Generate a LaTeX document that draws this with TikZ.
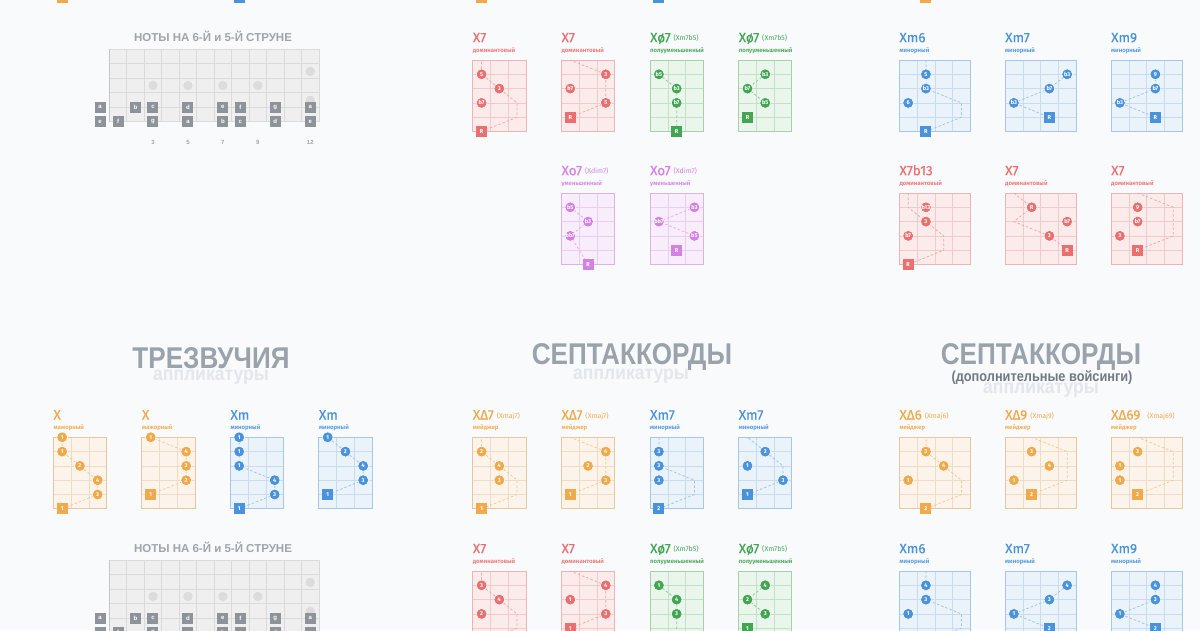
\documentclass[tikz,border=0pt]{standalone}
\usepackage{fontspec}
\setmainfont{Fira Sans}
\newfontfamily\hfont{Liberation Sans}
\newfontfamily\cfont[FakeBold=0.35]{Fira Sans}
\definecolor{bg}{HTML}{F8FAFC}
\definecolor{ttl}{HTML}{9AA2AC}
\definecolor{ttlb}{HTML}{E3E7EB}
\definecolor{ttlm}{HTML}{727982}
\definecolor{orM}{HTML}{F0A94B}\definecolor{orF}{HTML}{FCF4EB}\definecolor{orL}{HTML}{EEDCC6}\definecolor{orB}{HTML}{E5C8A3}\definecolor{orD}{HTML}{F4C78F}
\definecolor{blM}{HTML}{4A93DC}\definecolor{blF}{HTML}{EAF2FA}\definecolor{blL}{HTML}{C8DBEF}\definecolor{blB}{HTML}{A8C6E5}\definecolor{blD}{HTML}{9DC3EB}
\definecolor{rdM}{HTML}{EC6F6F}\definecolor{rdF}{HTML}{FCEBEB}\definecolor{rdL}{HTML}{F1CBCB}\definecolor{rdB}{HTML}{ECB4B4}\definecolor{rdD}{HTML}{F2A6A6}
\definecolor{gnM}{HTML}{43A552}\definecolor{gnF}{HTML}{EAF5EB}\definecolor{gnL}{HTML}{C3E1C6}\definecolor{gnB}{HTML}{A3D1A8}\definecolor{gnD}{HTML}{8FCA97}
\definecolor{puM}{HTML}{D580E4}\definecolor{puF}{HTML}{F8EDFA}\definecolor{puL}{HTML}{EBCDF1}\definecolor{puB}{HTML}{DEB1E7}\definecolor{puD}{HTML}{E4ABED}
\definecolor{bdF}{HTML}{EFEFEF}\definecolor{bdL}{HTML}{DADADA}\definecolor{bdN}{HTML}{C6C6C6}
\definecolor{inl}{HTML}{DCDCDC}\definecolor{nsq}{HTML}{8E939A}\definecolor{fnum}{HTML}{A3A7AD}\definecolor{btc}{HTML}{A0A5AC}

\def\cwd{17.75}
\def\shd{14.3}
\newif\ifintv
\newcommand{\lb}[2]{\ifintv#1\else#2\fi}
\newcommand{\ctfont}{\cfont\fontsize{13.5}{14}\selectfont}
\newcommand{\csfont}{\fontsize{6}{6}\selectfont\bfseries}
\newcommand{\dfont}{\fontsize{5.6}{6}\selectfont\bfseries}
\newcommand{\pr}[1]{\hspace{3pt}\raisebox{1.5pt}{\rmfamily\fontsize{7}{7}\selectfont(#1)}}

\tikzset{
 cdot/.style={circle,fill=#1M,draw=white,line width=.5pt,minimum size=10.8pt,inner sep=0pt,text=white,font=\dfont},
 sqn/.style={rectangle,fill=#1M,minimum size=11pt,inner sep=0pt,text=white,font=\dfont},
 dsh/.style={draw=#1D,line width=.75pt,dash pattern=on 2.5pt off 2pt},
 bigt/.style={text=ttl,inner sep=0pt,font=\hfont\bfseries\fontsize{30}{30}\selectfont},
 bigs/.style={text=ttlb,inner sep=0pt,font=\hfont\bfseries\fontsize{19.5}{20}\selectfont},
 bigm/.style={text=ttlm,inner sep=0pt,font=\hfont\bfseries\fontsize{14.5}{15}\selectfont},
 btitle/.style={text=btc,inner sep=0pt,font=\hfont\bfseries\fontsize{11.5}{12}\selectfont},
 nsqs/.style={rectangle,fill=nsq,minimum size=11pt,inner sep=0pt,text=white,font=\hfont\bfseries\fontsize{6}{6}\selectfont},
 fnums/.style={text=fnum,inner sep=0pt,font=\hfont\bfseries\fontsize{6}{6}\selectfont}
}

% chord grid: name, x, y, ncols, palette
\newcommand{\cgrid}[5]{%
 \fill[#5F] (#2,#3) rectangle ++({#4*\cwd},{5*\shd});
 \foreach \i in {1,...,4}{\draw[#5L,line width=.5pt] (#2,{#3+\i*\shd}) -- ++({#4*\cwd},0);}
 \pgfmathtruncatemacro{\nm}{#4-1}
 \foreach \i in {1,...,\nm}{\draw[#5L,line width=.5pt] ({#2+\i*\cwd},#3) -- ++(0,{5*\shd});}
 \draw[#5B,line width=.8pt] (#2,#3) rectangle ++({#4*\cwd},{5*\shd});
 \foreach \si in {1,...,6}{\foreach \ci in {1,...,#4}{\coordinate (#1-\si-\ci) at ({#2+(\ci-0.5)*\cwd},{#3+(\si-1)*\shd});}}
}
\newcommand{\ctitle}[6]{%
 \node[anchor=base west,inner sep=0pt,text=#4M,font=\ctfont] (#1-t) at (#2,{#3-17.8}) {#5};
 \node[anchor=base west,inner sep=0pt,text=#4M!90!white,font=\csfont] (#1-s) at (#2,{#3-7.6}) {#6};}
% titles of the first row: only in the lower copy (the upper copy's are off the page)
\newcommand{\rtitle}[6]{\ifintv\else\ctitle{#1}{#2}{#3}{#4}{#5}{#6}\fi}
\newcommand{\cd}[4]{\node[cdot=#2] (#1-#3d) at (#1-#3) {#4};}
\newcommand{\cs}[4]{\node[sqn=#2] (#1-#3d) at (#1-#3) {#4};}

\newcommand{\board}[1]{%
 \node[btitle] (#1-bt) at (213,547) {НОТЫ НА 6-Й и 5-Й СТРУНЕ};
 \fill[bdF] (109.3,560.3) rectangle (319,632.7);
 \foreach \i in {1,...,4}{\draw[bdL,line width=.6pt] (109.3,{560.3+\i*14.48}) -- (319,{560.3+\i*14.48});}
 \foreach \i in {1,...,11}{\draw[bdL,line width=.6pt] ({109.3+\i*17.475},560.3) -- ({109.3+\i*17.475},632.7);}
 \draw[bdL,line width=.6pt] (109.3,560.3) rectangle (319,632.7);
 \draw[bdN,line width=.9pt] (109.3,560.3) -- (109.3,632.7);
 \foreach \n in {3,5,7,9}{\fill[inl] ({109.3+(\n-0.5)*17.475},596.5) circle (4.7pt);}
 \fill[inl] ({109.3+11.5*17.475},582.4) circle (4.7pt);
 \fill[inl] ({109.3+11.5*17.475},611.3) circle (4.7pt);
 \foreach \n in {0,...,12}{%
   \pgfmathsetmacro{\xx}{\n==0 ? 100 : 109.3+(\n-0.5)*17.475}
   \coordinate (#1-f5-\n) at (\xx,618.2);
   \coordinate (#1-f6-\n) at (\xx,632.7);
   \coordinate (#1-fn-\n) at (\xx,653.7);}
 \foreach \n/\l in {0/a,2/b,3/c,5/d,7/e,8/f,10/g,12/a}{\node[nsqs] (#1-q5-\n) at (#1-f5-\n) {\l};}
 \foreach \n/\l in {0/e,1/f,3/g,5/a,7/b,8/c,10/d,12/e}{\node[nsqs] (#1-q6-\n) at (#1-f6-\n) {\l};}
 \ifintv\foreach \n in {3,5,7,9,12}{\node[fnums] (#1-num-\n) at (#1-fn-\n) {\n};}\fi
}

\newcommand{\tile}[1]{%
 % section titles (lower copy only)
 \ifintv\else
 \node[bigs] (#1-T1b) at (211,377) {\scalebox{0.9}[1]{аппликатуры}};
 \node[bigt] (#1-T1) at (211,358) {\scalebox{0.87}[1]{ТРЕЗВУЧИЯ}};
 \node[bigs] (#1-T2b) at (631,376) {\scalebox{0.9}[1]{аппликатуры}};
 \node[bigt] (#1-T2) at (632,357) {\scalebox{0.87}[1]{СЕПТАККОРДЫ}};
 \node[bigs] (#1-T3b) at (1041,390) {\scalebox{0.9}[1]{аппликатуры}};
 \node[bigt] (#1-T3) at (1041,357) {\scalebox{0.87}[1]{СЕПТАККОРДЫ}};
 \node[bigm] (#1-T3m) at (1042,378) {\scalebox{0.88}[1]{(дополнительные войсинги)}};
 \fi
 % ---- row 1, column 1
 \cgrid{#1a1}{53.3}{437.3}{3}{or}\rtitle{#1a1}{53.3}{437.3}{or}{X}{мажорный}
 \draw[dsh=or] (#1a1-6-1)--(#1a1-5-3)--(#1a1-4-3)--(#1a1-3-2)--(#1a1-2-1)--(#1a1-1-1);
 \cd{#1a1}{or}{1-1}{\lb{R}{1}}\cd{#1a1}{or}{2-1}{\lb{5}{1}}\cd{#1a1}{or}{3-2}{\lb{3}{2}}\cd{#1a1}{or}{4-3}{\lb{R}{4}}\cd{#1a1}{or}{5-3}{\lb{5}{3}}\cs{#1a1}{or}{6-1}{\lb{R}{1}}
 \cgrid{#1a2}{141.8}{437.3}{3}{or}\rtitle{#1a2}{141.8}{437.3}{or}{X}{мажорный}
 \draw[dsh=or] (#1a2-5-1)--(#1a2-4-3)--(#1a2-3-3)--(#1a2-2-3)--(#1a2-1-1);
 \cd{#1a2}{or}{1-1}{\lb{5}{1}}\cd{#1a2}{or}{2-3}{\lb{3}{4}}\cd{#1a2}{or}{3-3}{\lb{R}{3}}\cd{#1a2}{or}{4-3}{\lb{5}{2}}\cs{#1a2}{or}{5-1}{\lb{R}{1}}
 \cgrid{#1a3}{230.3}{437.3}{3}{bl}\rtitle{#1a3}{230.3}{437.3}{bl}{Xm}{минорный}
 \draw[dsh=bl] (#1a3-6-1)--(#1a3-5-3)--(#1a3-4-3)--(#1a3-3-1)--(#1a3-2-1)--(#1a3-1-1);
 \cd{#1a3}{bl}{1-1}{\lb{R}{1}}\cd{#1a3}{bl}{2-1}{\lb{5}{1}}\cd{#1a3}{bl}{3-1}{\lb{b3}{1}}\cd{#1a3}{bl}{4-3}{\lb{R}{4}}\cd{#1a3}{bl}{5-3}{\lb{5}{3}}\cs{#1a3}{bl}{6-1}{\lb{R}{1}}
 \cgrid{#1a4}{318.8}{437.3}{3}{bl}\rtitle{#1a4}{318.8}{437.3}{bl}{Xm}{минорный}
 \draw[dsh=bl] (#1a4-5-1)--(#1a4-4-3)--(#1a4-3-3)--(#1a4-2-2)--(#1a4-1-1);
 \cd{#1a4}{bl}{1-1}{\lb{5}{1}}\cd{#1a4}{bl}{2-2}{\lb{b3}{2}}\cd{#1a4}{bl}{3-3}{\lb{R}{4}}\cd{#1a4}{bl}{4-3}{\lb{5}{3}}\cs{#1a4}{bl}{5-1}{\lb{R}{1}}
 % ---- row 1, column 2
 \cgrid{#1b1}{472.7}{437.3}{3}{or}\rtitle{#1b1}{472.7}{437.3}{or}{XΔ7\pr{Xmaj7}}{мейджер}
 \draw[dsh=or] (#1b1-6-1)--(#1b1-5-3)--(#1b1-4-3)--(#1b1-3-2)--(#1b1-2-1)--(#1b1-1-1);
 \cd{#1b1}{or}{2-1}{\lb{5}{2}}\cd{#1b1}{or}{3-2}{\lb{3}{4}}\cd{#1b1}{or}{4-2}{\lb{7}{3}}\cs{#1b1}{or}{6-1}{\lb{R}{1}}
 \cgrid{#1b2}{561.4}{437.3}{3}{or}\rtitle{#1b2}{561.4}{437.3}{or}{XΔ7\pr{Xmaj7}}{мейджер}
 \draw[dsh=or] (#1b2-5-1)--(#1b2-4-3)--(#1b2-3-3)--(#1b2-2-3)--(#1b2-1-1);
 \cd{#1b2}{or}{2-3}{\lb{3}{4}}\cd{#1b2}{or}{3-2}{\lb{7}{2}}\cd{#1b2}{or}{4-3}{\lb{5}{3}}\cs{#1b2}{or}{5-1}{\lb{R}{1}}
 \cgrid{#1b3}{650}{437.3}{3}{bl}\rtitle{#1b3}{650}{437.3}{bl}{Xm7}{минорный}
 \draw[dsh=bl] (#1b3-6-1)--(#1b3-5-3)--(#1b3-4-3)--(#1b3-3-1)--(#1b3-2-1)--(#1b3-1-1);
 \cd{#1b3}{bl}{2-1}{\lb{5}{3}}\cd{#1b3}{bl}{3-1}{\lb{b3}{3}}\cd{#1b3}{bl}{4-1}{\lb{b7}{3}}\cs{#1b3}{bl}{6-1}{\lb{R}{2}}
 \cgrid{#1b4}{738.6}{437.3}{3}{bl}\rtitle{#1b4}{738.6}{437.3}{bl}{Xm7}{минорный}
 \draw[dsh=bl] (#1b4-5-1)--(#1b4-4-3)--(#1b4-3-3)--(#1b4-2-2)--(#1b4-1-1);
 \cd{#1b4}{bl}{2-2}{\lb{b3}{2}}\cd{#1b4}{bl}{3-1}{\lb{b7}{1}}\cd{#1b4}{bl}{4-3}{\lb{5}{3}}\cs{#1b4}{bl}{5-1}{\lb{R}{1}}
 % ---- row 1, column 3
 \cgrid{#1c1}{899.3}{437.3}{4}{or}\rtitle{#1c1}{899.3}{437.3}{or}{XΔ6\pr{Xmaj6}}{мейджер}
 \draw[dsh=or] (#1c1-6-2)--(#1c1-5-4)--(#1c1-4-4)--(#1c1-3-3)--(#1c1-2-2)--(#1c1-1-2);
 \cd{#1c1}{or}{2-2}{\lb{5}{3}}\cd{#1c1}{or}{3-3}{\lb{3}{4}}\cd{#1c1}{or}{4-1}{\lb{6}{1}}\cs{#1c1}{or}{6-2}{\lb{R}{2}}
 \cgrid{#1c2}{1005}{437.3}{4}{or}\rtitle{#1c2}{1005}{437.3}{or}{XΔ9\pr{Xmaj9}}{мейджер}
 \draw[dsh=or] (#1c2-5-2)--(#1c2-4-4)--(#1c2-3-4)--(#1c2-2-4)--(#1c2-1-2);
 \cd{#1c2}{or}{2-2}{\lb{9}{3}}\cd{#1c2}{or}{3-3}{\lb{7}{4}}\cd{#1c2}{or}{4-1}{\lb{3}{1}}\cs{#1c2}{or}{5-2}{\lb{R}{2}}
 \cgrid{#1c3}{1111}{437.3}{4}{or}\rtitle{#1c3}{1111}{437.3}{or}{XΔ69\hspace{4pt}\pr{Xmaj69}}{мейджер}
 \draw[dsh=or] (#1c3-5-2)--(#1c3-4-4)--(#1c3-3-4)--(#1c3-2-4)--(#1c3-1-2);
 \cd{#1c3}{or}{2-2}{\lb{9}{3}}\cd{#1c3}{or}{3-1}{\lb{6}{1}}\cd{#1c3}{or}{4-1}{\lb{3}{1}}\cs{#1c3}{or}{5-2}{\lb{R}{2}}
 % ---- row 2, column 1: notes board
 \board{#1}
 % ---- row 2, column 2
 \cgrid{#1b5}{472.7}{571}{3}{rd}\ctitle{#1b5}{472.7}{571}{rd}{X7}{доминантовый}
 \draw[dsh=rd] (#1b5-6-1)--(#1b5-5-3)--(#1b5-4-3)--(#1b5-3-2)--(#1b5-2-1)--(#1b5-1-1);
 \cd{#1b5}{rd}{2-1}{\lb{5}{3}}\cd{#1b5}{rd}{3-2}{\lb{3}{4}}\cd{#1b5}{rd}{4-1}{\lb{b7}{2}}\cs{#1b5}{rd}{6-1}{\lb{R}{1}}
 \cgrid{#1b6}{561.4}{571}{3}{rd}\ctitle{#1b6}{561.4}{571}{rd}{X7}{доминантовый}
 \draw[dsh=rd] (#1b6-5-1)--(#1b6-4-3)--(#1b6-3-3)--(#1b6-2-3)--(#1b6-1-1);
 \cd{#1b6}{rd}{2-3}{\lb{3}{4}}\cd{#1b6}{rd}{3-1}{\lb{b7}{1}}\cd{#1b6}{rd}{4-3}{\lb{5}{3}}\cs{#1b6}{rd}{5-1}{\lb{R}{1}}
 \cgrid{#1b7}{650}{571}{3}{gn}\ctitle{#1b7}{650}{571}{gn}{Xø7\pr{Xm7b5}}{полууменьшенный}
 \draw[dsh=gn] (#1b7-2-1)--(#1b7-3-2)--(#1b7-4-2)--(#1b7-5-2)--(#1b7-6-2);
 \cd{#1b7}{gn}{2-1}{\lb{b5}{1}}\cd{#1b7}{gn}{3-2}{\lb{b3}{4}}\cd{#1b7}{gn}{4-2}{\lb{b7}{3}}\cs{#1b7}{gn}{6-2}{\lb{R}{2}}
 \cgrid{#1b8}{738.6}{571}{3}{gn}\ctitle{#1b8}{738.6}{571}{gn}{Xø7\pr{Xm7b5}}{полууменьшенный}
 \draw[dsh=gn] (#1b8-2-2)--(#1b8-3-1)--(#1b8-4-2);
 \cd{#1b8}{gn}{2-2}{\lb{b3}{4}}\cd{#1b8}{gn}{3-1}{\lb{b7}{2}}\cd{#1b8}{gn}{4-2}{\lb{b5}{3}}\cs{#1b8}{gn}{5-1}{\lb{R}{1}}
 % ---- row 2, column 3
 \cgrid{#1c4}{899.3}{571}{4}{bl}\ctitle{#1c4}{899.3}{571}{bl}{Xm6}{минорный}
 \draw[dsh=bl] (#1c4-6-2)--(#1c4-5-4)--(#1c4-4-4)--(#1c4-3-2)--(#1c4-2-2)--(#1c4-1-2);
 \cd{#1c4}{bl}{2-2}{\lb{5}{4}}\cd{#1c4}{bl}{3-2}{\lb{b3}{3}}\cd{#1c4}{bl}{4-1}{\lb{6}{1}}\cs{#1c4}{bl}{6-2}{\lb{R}{2}}
 \cgrid{#1c5}{1005}{571}{4}{bl}\ctitle{#1c5}{1005}{571}{bl}{Xm7}{минорный}
 \draw[dsh=bl] (#1c5-2-4)--(#1c5-3-3)--(#1c5-4-1)--(#1c5-5-3);
 \cd{#1c5}{bl}{2-4}{\lb{b3}{4}}\cd{#1c5}{bl}{3-3}{\lb{b7}{3}}\cd{#1c5}{bl}{4-1}{\lb{b3}{1}}\cs{#1c5}{bl}{5-3}{\lb{R}{2}}
 \cgrid{#1c6}{1111}{571}{4}{bl}\ctitle{#1c6}{1111}{571}{bl}{Xm9}{минорный}
 \draw[dsh=bl] (#1c6-2-3)--(#1c6-3-3)--(#1c6-4-1)--(#1c6-5-3);
 \cd{#1c6}{bl}{2-3}{\lb{9}{4}}\cd{#1c6}{bl}{3-3}{\lb{b7}{3}}\cd{#1c6}{bl}{4-1}{\lb{b3}{1}}\cs{#1c6}{bl}{5-3}{\lb{R}{2}}
 % ---- row 3 (upper copy only reaches the page)
 \ifintv
 \cgrid{#1b9}{561.4}{704}{3}{pu}\ctitle{#1b9}{561.4}{704}{pu}{Xo7\pr{Xdim7}}{уменьшенный}
 \draw[dsh=pu] (#1b9-2-1)--(#1b9-3-2)--(#1b9-4-1)--(#1b9-6-2);
 \cd{#1b9}{pu}{2-1}{\lb{b5}{2}}\cd{#1b9}{pu}{3-2}{\lb{b3}{3}}\cd{#1b9}{pu}{4-1}{\lb{bb7}{1}}\cs{#1b9}{pu}{6-2}{\lb{R}{2}}
 \cgrid{#1b10}{650}{704}{3}{pu}\ctitle{#1b10}{650}{704}{pu}{Xo7\pr{Xdim7}}{уменьшенный}
 \draw[dsh=pu] (#1b10-2-3)--(#1b10-3-1)--(#1b10-4-3);
 \cd{#1b10}{pu}{2-3}{\lb{b3}{4}}\cd{#1b10}{pu}{3-1}{\lb{bb7}{1}}\cd{#1b10}{pu}{4-3}{\lb{b5}{3}}\cs{#1b10}{pu}{5-2}{\lb{R}{2}}
 \cgrid{#1c7}{899.3}{704}{4}{rd}\ctitle{#1c7}{899.3}{704}{rd}{X7b13}{доминантовый}
 \draw[dsh=rd] (#1c7-1-1)--(#1c7-2-1)--(#1c7-3-2)--(#1c7-4-3)--(#1c7-5-3)--(#1c7-6-1);
 \cd{#1c7}{rd}{2-2}{\lb{b13}{3}}\cd{#1c7}{rd}{3-2}{\lb{3}{2}}\cd{#1c7}{rd}{4-1}{\lb{b7}{1}}\cs{#1c7}{rd}{6-1}{\lb{R}{1}}
 \cgrid{#1c8}{1005}{704}{4}{rd}\ctitle{#1c8}{1005}{704}{rd}{X7}{доминантовый}
 \draw[dsh=rd] (#1c8-1-1)--(#1c8-2-2)--(#1c8-3-1)--(#1c8-4-3)--(#1c8-5-4);
 \cd{#1c8}{rd}{2-2}{\lb{R}{1}}\cd{#1c8}{rd}{3-4}{\lb{b7}{4}}\cd{#1c8}{rd}{4-3}{\lb{3}{3}}\cs{#1c8}{rd}{5-4}{\lb{R}{4}}
 \cgrid{#1c9}{1111}{704}{4}{rd}\ctitle{#1c9}{1111}{704}{rd}{X7}{доминантовый}
 \draw[dsh=rd] (#1c9-1-2)--(#1c9-2-4)--(#1c9-3-4)--(#1c9-4-4)--(#1c9-5-2);
 \cd{#1c9}{rd}{2-2}{\lb{9}{3}}\cd{#1c9}{rd}{3-2}{\lb{b7}{2}}\cd{#1c9}{rd}{4-1}{\lb{3}{1}}\cs{#1c9}{rd}{5-2}{\lb{R}{2}}
 \fi
}

\begin{document}
\begin{tikzpicture}[x=1pt,y=-1pt]
 \useasboundingbox (0,0) rectangle (1200,630);
 \fill[bg] (0,0) rectangle (1200,630);
 \clip (0,0) rectangle (1200,630);
 \begin{scope}[shift={(0,-511)}]
  \intvtrue
  \tile{a}
 \end{scope}
 \intvfalse
 \tile{b}
\end{tikzpicture}
\end{document}
